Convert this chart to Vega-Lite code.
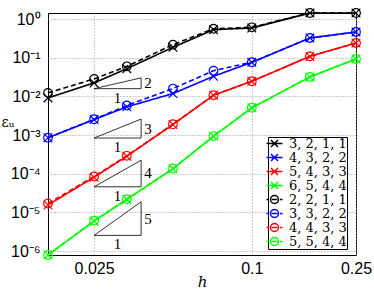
{
  "$schema": "https://vega.github.io/schema/vega-lite/v6.json",
  "width": 308,
  "height": 242,
  "autosize": "none",
  "padding": {"left": 48, "top": 13, "right": 18, "bottom": 34},
  "background": "white",
  "config": {"view": {"stroke": "black", "strokeWidth": 1}},
  "resolve": {"legend": {"color": "independent"}},
  "datasets": {
    "series": [
      {"label": "3, 2, 1, 1", "h": 0.016667, "e": 0.0091},
      {"label": "3, 2, 1, 1", "h": 0.025, "e": 0.0223},
      {"label": "3, 2, 1, 1", "h": 0.033333, "e": 0.052},
      {"label": "3, 2, 1, 1", "h": 0.05, "e": 0.185},
      {"label": "3, 2, 1, 1", "h": 0.071429, "e": 0.53},
      {"label": "3, 2, 1, 1", "h": 0.1, "e": 0.586},
      {"label": "3, 2, 1, 1", "h": 0.166667, "e": 1.43},
      {"label": "3, 2, 1, 1", "h": 0.25, "e": 1.43},
      {"label": "4, 3, 2, 2", "h": 0.016667, "e": 0.00085},
      {"label": "4, 3, 2, 2", "h": 0.025, "e": 0.00251},
      {"label": "4, 3, 2, 2", "h": 0.033333, "e": 0.00535},
      {"label": "4, 3, 2, 2", "h": 0.05, "e": 0.0118},
      {"label": "4, 3, 2, 2", "h": 0.071429, "e": 0.033},
      {"label": "4, 3, 2, 2", "h": 0.1, "e": 0.0757},
      {"label": "4, 3, 2, 2", "h": 0.166667, "e": 0.323},
      {"label": "4, 3, 2, 2", "h": 0.25, "e": 0.462},
      {"label": "5, 4, 3, 3", "h": 0.016667, "e": 0.0000155},
      {"label": "5, 4, 3, 3", "h": 0.025, "e": 0.000081},
      {"label": "5, 4, 3, 3", "h": 0.033333, "e": 0.000283},
      {"label": "5, 4, 3, 3", "h": 0.05, "e": 0.00187},
      {"label": "5, 4, 3, 3", "h": 0.071429, "e": 0.0107},
      {"label": "5, 4, 3, 3", "h": 0.1, "e": 0.0245},
      {"label": "5, 4, 3, 3", "h": 0.166667, "e": 0.108},
      {"label": "5, 4, 3, 3", "h": 0.25, "e": 0.24},
      {"label": "6, 5, 4, 4", "h": 0.016667, "e": 0.00000079},
      {"label": "6, 5, 4, 4", "h": 0.025, "e": 0.00000594},
      {"label": "6, 5, 4, 4", "h": 0.033333, "e": 0.0000216},
      {"label": "6, 5, 4, 4", "h": 0.05, "e": 0.000134},
      {"label": "6, 5, 4, 4", "h": 0.071429, "e": 0.00093},
      {"label": "6, 5, 4, 4", "h": 0.1, "e": 0.00504},
      {"label": "6, 5, 4, 4", "h": 0.166667, "e": 0.0318},
      {"label": "6, 5, 4, 4", "h": 0.25, "e": 0.0927},
      {"label": "2, 2, 1, 1", "h": 0.016667, "e": 0.0123},
      {"label": "2, 2, 1, 1", "h": 0.025, "e": 0.0282},
      {"label": "2, 2, 1, 1", "h": 0.033333, "e": 0.0597},
      {"label": "2, 2, 1, 1", "h": 0.05, "e": 0.217},
      {"label": "2, 2, 1, 1", "h": 0.071429, "e": 0.56},
      {"label": "2, 2, 1, 1", "h": 0.1, "e": 0.61},
      {"label": "2, 2, 1, 1", "h": 0.166667, "e": 1.43},
      {"label": "2, 2, 1, 1", "h": 0.25, "e": 1.43},
      {"label": "3, 3, 2, 2", "h": 0.016667, "e": 0.00085},
      {"label": "3, 3, 2, 2", "h": 0.025, "e": 0.00255},
      {"label": "3, 3, 2, 2", "h": 0.033333, "e": 0.0058},
      {"label": "3, 3, 2, 2", "h": 0.05, "e": 0.0159},
      {"label": "3, 3, 2, 2", "h": 0.071429, "e": 0.0462},
      {"label": "3, 3, 2, 2", "h": 0.1, "e": 0.076},
      {"label": "3, 3, 2, 2", "h": 0.166667, "e": 0.323},
      {"label": "3, 3, 2, 2", "h": 0.25, "e": 0.462},
      {"label": "4, 4, 3, 3", "h": 0.016667, "e": 0.000017},
      {"label": "4, 4, 3, 3", "h": 0.025, "e": 0.000085},
      {"label": "4, 4, 3, 3", "h": 0.033333, "e": 0.00029},
      {"label": "4, 4, 3, 3", "h": 0.05, "e": 0.0019},
      {"label": "4, 4, 3, 3", "h": 0.071429, "e": 0.0107},
      {"label": "4, 4, 3, 3", "h": 0.1, "e": 0.0245},
      {"label": "4, 4, 3, 3", "h": 0.166667, "e": 0.108},
      {"label": "4, 4, 3, 3", "h": 0.25, "e": 0.24},
      {"label": "5, 5, 4, 4", "h": 0.016667, "e": 0.00000079},
      {"label": "5, 5, 4, 4", "h": 0.025, "e": 0.0000061},
      {"label": "5, 5, 4, 4", "h": 0.033333, "e": 0.000022},
      {"label": "5, 5, 4, 4", "h": 0.05, "e": 0.000136},
      {"label": "5, 5, 4, 4", "h": 0.071429, "e": 0.00094},
      {"label": "5, 5, 4, 4", "h": 0.1, "e": 0.0051},
      {"label": "5, 5, 4, 4", "h": 0.166667, "e": 0.0318},
      {"label": "5, 5, 4, 4", "h": 0.25, "e": 0.0927}
    ],
    "tri": [
      {"tri": 2, "ord": 1, "h": 0.025, "e": 0.0158},
      {"tri": 2, "ord": 2, "h": 0.0378, "e": 0.0158},
      {"tri": 2, "ord": 3, "h": 0.0378, "e": 0.030},
      {"tri": 2, "ord": 4, "h": 0.025, "e": 0.0158},
      {"tri": 3, "ord": 1, "h": 0.025, "e": 0.000836},
      {"tri": 3, "ord": 2, "h": 0.0378, "e": 0.000836},
      {"tri": 3, "ord": 3, "h": 0.0378, "e": 0.00259},
      {"tri": 3, "ord": 4, "h": 0.025, "e": 0.000836},
      {"tri": 4, "ord": 1, "h": 0.025, "e": 0.0000459},
      {"tri": 4, "ord": 2, "h": 0.0378, "e": 0.0000459},
      {"tri": 4, "ord": 3, "h": 0.0378, "e": 0.000223},
      {"tri": 4, "ord": 4, "h": 0.025, "e": 0.0000459},
      {"tri": 5, "ord": 1, "h": 0.025, "e": 0.00000254},
      {"tri": 5, "ord": 2, "h": 0.0378, "e": 0.00000254},
      {"tri": 5, "ord": 3, "h": 0.0378, "e": 0.0000188},
      {"tri": 5, "ord": 4, "h": 0.025, "e": 0.00000254}
    ],
    "slope": [
      {"text": "2", "h": 0.0378, "e": 0.02177},
      {"text": "3", "h": 0.0378, "e": 0.001471},
      {"text": "4", "h": 0.0378, "e": 0.0001012},
      {"text": "5", "h": 0.0378, "e": 0.00000691}
    ],
    "run": [
      {"text": "1", "h": 0.0307, "e": 0.0158},
      {"text": "1", "h": 0.0307, "e": 0.000836},
      {"text": "1", "h": 0.0307, "e": 0.0000459},
      {"text": "1", "h": 0.0307, "e": 0.00000254}
    ]
  },
  "encoding": {
    "x": {
      "field": "h", "type": "quantitative",
      "scale": {"type": "log", "domain": [0.016667, 0.25], "nice": false},
      "axis": {
        "values": [0.025, 0.1, 0.25], "format": "~g",
        "labelFont": "Liberation Sans", "labelFontSize": 16, "labelColor": "black",
        "ticks": false, "domain": false, "grid": true, "gridDash": [1, 2], "gridColor": "#999999",
        "labelPadding": 5, "labelFlush": false,
        "title": "h", "titleFont": "DejaVu Serif", "titleFontStyle": "italic", "titleFontWeight": "normal",
        "titleFontSize": 15, "titleColor": "black", "titleY": 26, "titleBaseline": "middle"
      }
    },
    "y": {
      "field": "e", "type": "quantitative",
      "scale": {"type": "log", "domain": [0.00000079, 1.43], "nice": false},
      "axis": {
        "values": [0.000001, 0.00001, 0.0001, 0.001, 0.01, 0.1, 1],
        "labelExpr": "'10' + ['⁰','⁻¹','⁻²','⁻³','⁻⁴','⁻⁵','⁻⁶'][round(-log(datum.value)/LN10)]",
        "labelFont": "Liberation Sans", "labelFontSize": 16, "labelColor": "black",
        "ticks": false, "domain": false, "grid": true, "gridDash": [1, 2], "gridColor": "#999999",
        "labelPadding": 8, "labelFlush": false,
        "title": "εᵤ", "titleAngle": 0, "titleX": -47, "titleY": 109, "titleAlign": "left", "titleBaseline": "middle",
        "titleFont": "DejaVu Serif", "titleFontSize": 14, "titleFontWeight": "normal", "titleColor": "black"
      }
    }
  },
  "layer": [
    {
      "data": {"name": "tri"},
      "mark": {"type": "line", "color": "black", "strokeWidth": 0.8},
      "encoding": {
        "detail": {"field": "tri", "type": "nominal"},
        "order": {"field": "ord", "type": "quantitative"}
      }
    },
    {
      "data": {"name": "slope"},
      "mark": {"type": "text", "align": "left", "baseline": "middle", "dx": 3, "font": "Liberation Serif", "fontSize": 15, "color": "black"},
      "encoding": {"text": {"field": "text", "type": "nominal"}}
    },
    {
      "data": {"name": "run"},
      "mark": {"type": "text", "align": "center", "baseline": "middle", "dy": 9, "font": "Liberation Serif", "fontSize": 15, "color": "black"},
      "encoding": {"text": {"field": "text", "type": "nominal"}}
    },
    {
      "data": {"name": "series"},
      "mark": {"type": "line"},
      "encoding": {
        "color": {
          "field": "label", "type": "nominal",
          "scale": {
            "domain": ["3, 2, 1, 1", "4, 3, 2, 2", "5, 4, 3, 3", "6, 5, 4, 4", "2, 2, 1, 1", "3, 3, 2, 2", "4, 4, 3, 3", "5, 5, 4, 4"],
            "range": ["#000000", "#0000ff", "#ff0000", "#00ff00", "#000000", "#0000ff", "#ff0000", "#00ff00"]
          },
          "legend": null
        },
        "strokeDash": {
          "field": "label", "type": "nominal",
          "scale": {
            "domain": ["3, 2, 1, 1", "4, 3, 2, 2", "5, 4, 3, 3", "6, 5, 4, 4", "2, 2, 1, 1", "3, 3, 2, 2", "4, 4, 3, 3", "5, 5, 4, 4"],
            "range": [[1, 0], [1, 0], [1, 0], [1, 0], [5, 3], [5, 3], [5, 3], [5, 3]]
          },
          "legend": null
        },
        "strokeWidth": {
          "field": "label", "type": "nominal",
          "scale": {
            "domain": ["3, 2, 1, 1", "4, 3, 2, 2", "5, 4, 3, 3", "6, 5, 4, 4", "2, 2, 1, 1", "3, 3, 2, 2", "4, 4, 3, 3", "5, 5, 4, 4"],
            "range": [1.6, 1.6, 1.6, 1.6, 1, 1, 1, 1]
          },
          "legend": null
        }
      }
    },
    {
      "data": {"name": "series"},
      "mark": {"type": "point", "filled": false, "size": 75, "strokeWidth": 1.2, "opacity": 1},
      "encoding": {
        "color": {
          "field": "label", "type": "nominal",
          "scale": {
            "domain": ["3, 2, 1, 1", "4, 3, 2, 2", "5, 4, 3, 3", "6, 5, 4, 4", "2, 2, 1, 1", "3, 3, 2, 2", "4, 4, 3, 3", "5, 5, 4, 4"],
            "range": ["#000000", "#0000ff", "#ff0000", "#00ff00", "#000000", "#0000ff", "#ff0000", "#00ff00"]
          },
          "legend": {
            "orient": "none", "legendX": 220, "legendY": 124, "title": null,
            "strokeColor": "black", "fillColor": "white", "padding": 0,
            "labelFont": "DejaVu Serif", "labelFontSize": 13, "labelColor": "black",
            "symbolSize": 100, "symbolStrokeWidth": 1.5, "labelOffset": 8, "symbolOffset": 0, "rowPadding": -3,
            "symbolType": {"expr": "indexof(['3, 2, 1, 1','4, 3, 2, 2','5, 4, 3, 3','6, 5, 4, 4'], datum.value) >= 0 ? 'M-1.6,0H1.6M-0.7,-0.7L0.7,0.7M-0.7,0.7L0.7,-0.7' : 'M-1.6,0H-1.1M-0.55,0H0.55M1.1,0H1.6M0.8,0A0.8,0.8 0 1 1 -0.8,0A0.8,0.8 0 1 1 0.8,0'"}
          }
        },
        "shape": {
          "field": "label", "type": "nominal",
          "scale": {
            "domain": ["3, 2, 1, 1", "4, 3, 2, 2", "5, 4, 3, 3", "6, 5, 4, 4", "2, 2, 1, 1", "3, 3, 2, 2", "4, 4, 3, 3", "5, 5, 4, 4"],
            "range": ["M-1,-1L1,1M-1,1L1,-1", "M-1,-1L1,1M-1,1L1,-1", "M-1,-1L1,1M-1,1L1,-1", "M-1,-1L1,1M-1,1L1,-1", "circle", "circle", "circle", "circle"]
          },
          "legend": null
        }
      }
    }
  ]
}
